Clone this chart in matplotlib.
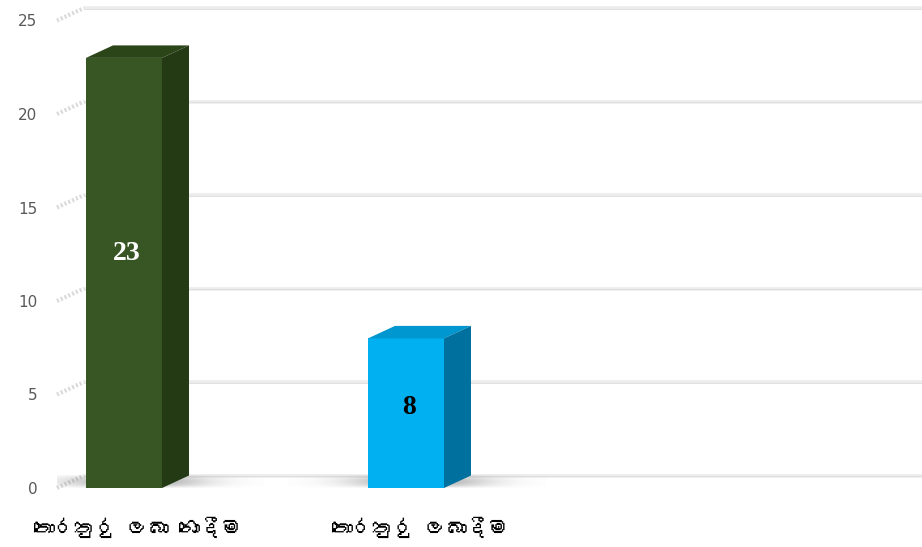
import matplotlib
matplotlib.use("Agg")
import numpy as np
import matplotlib.pyplot as plt
from matplotlib import font_manager
from matplotlib.ft2font import FT2Font
from matplotlib.patches import Polygon

# Data
categories = ["තොරතුරු ලබා නොදීම", "තොරතුරු ලබාදීම"]
values = [23, 8]
y_ticks = [0, 5, 10, 15, 20, 25]

# Colours per bar: front face, top face, side face, value label
front_colors = ["#375623", "#00b0f0"]
top_colors = ["#2b4519", "#0096cf"]
side_colors = ["#243a15", "#00719e"]
label_colors = ["white", "black"]


def font_with_glyph(ch):
    for entry in font_manager.fontManager.ttflist:
        try:
            if ord(ch) in FT2Font(entry.fname).get_charmap():
                return entry.name
        except Exception:
            continue
    return None


sinhala = font_with_glyph("ත")
label_family = [sinhala, "DejaVu Sans"] if sinhala else ["DejaVu Sans"]

W, H = 922, 547
fig = plt.figure(figsize=(W / 100, H / 100), dpi=100)
fig.patch.set_facecolor("white")

# front plane of the axes
left_px, right_px, bottom_px, top_px = 57, 922, 488, 20.5
ax = fig.add_axes([left_px / W, (H - bottom_px) / H,
                   (right_px - left_px) / W, (bottom_px - top_px) / H])
xpx_per_unit = 282.0
ax.set_xlim((left_px - 124) / xpx_per_unit, (right_px - 124) / xpx_per_unit)
ax.set_ylim(0, 25)
for s in ax.spines.values():
    s.set_visible(False)

ypx_per_unit = (bottom_px - top_px) / 25.0
dx = 27 / xpx_per_unit      # depth offset in x (data units)
dy = 12.5 / ypx_per_unit    # depth offset in y (data units)
x0, x1 = ax.get_xlim()

# back-wall gridlines and the hatched stubs joining them to the axis
for t in y_ticks:
    ax.plot([x0 + dx, x1 + 0.2], [t + dy, t + dy], color="#ececec", lw=2.6,
            solid_capstyle="butt", clip_on=False, zorder=1)
    ax.plot([x0 + dx, x1 + 0.2], [t + dy - 0.03, t + dy - 0.03],
            color="#e0e0e0", lw=0.7, clip_on=False, zorder=1)
    ax.plot([x0, x0 + dx], [t, t + dy], color="#dadada", lw=3,
            ls=(0, (0.5, 0.5)), clip_on=False, zorder=1)

width = 76 / xpx_per_unit
xs = list(range(len(values)))

# soft floor shadows spreading out from each bar's base
for x in xs:
    ext_l, ext_r = 0.42, 0.40
    gx = np.linspace(x - ext_l, x + ext_r + dx, 300)
    gy = np.linspace(0, dy, 30)
    GX, GY = np.meshgrid(gx, gy)
    dist = np.where(GX < x, (x - GX) / ext_l, (GX - x - dx) / ext_r)
    dist = np.clip(dist, 0, None)
    horiz = np.exp(-(dist * 2.0) ** 2)
    vert = np.sin(np.pi * (GY / dy) * 0.95 + 0.05) ** 0.8
    rgba = np.zeros(GX.shape + (4,))
    rgba[..., :3] = 0.5
    rgba[..., 3] = 0.6 * horiz * vert
    ax.imshow(rgba, extent=[gx[0], gx[-1], 0, dy], origin="lower",
              aspect="auto", interpolation="bilinear", zorder=2)

bars = ax.bar(xs, values, width=width, color=front_colors, zorder=3)
for x, v, tc, sc in zip(xs, values, top_colors, side_colors):
    xl, xr = x - width / 2, x + width / 2
    ax.add_patch(Polygon([[xl, v], [xr, v], [xr + dx, v + dy], [xl + dx, v + dy]],
                         closed=True, facecolor=tc, edgecolor="none",
                         zorder=3, clip_on=False))
    ax.add_patch(Polygon([[xr, 0], [xr + dx, dy], [xr + dx, v + dy], [xr, v]],
                         closed=True, facecolor=sc, edgecolor="none",
                         zorder=3, clip_on=False))

for x, v, c in zip(xs, values, label_colors):
    ax.text(x + 0.01, v * 0.55 - 0.1, str(v), ha="center", va="center",
            color=c, fontsize=20, fontweight="bold",
            family="Liberation Serif", zorder=5)

ax.set_xlim(x0, x1)
ax.set_ylim(0, 25)
ax.set_yticks(y_ticks)
ax.set_yticklabels([str(t) for t in y_ticks], color="#595959",
                   fontsize=11, family="DejaVu Sans")
ax.tick_params(axis="y", length=0, pad=14)

ax.set_xticks([x + dx / 2 for x in xs])
ax.set_xticklabels(categories, family=label_family, fontsize=15, color="black")
ax.tick_params(axis="x", length=0, pad=21)

fig.savefig("out.png", dpi=100, facecolor="white")
